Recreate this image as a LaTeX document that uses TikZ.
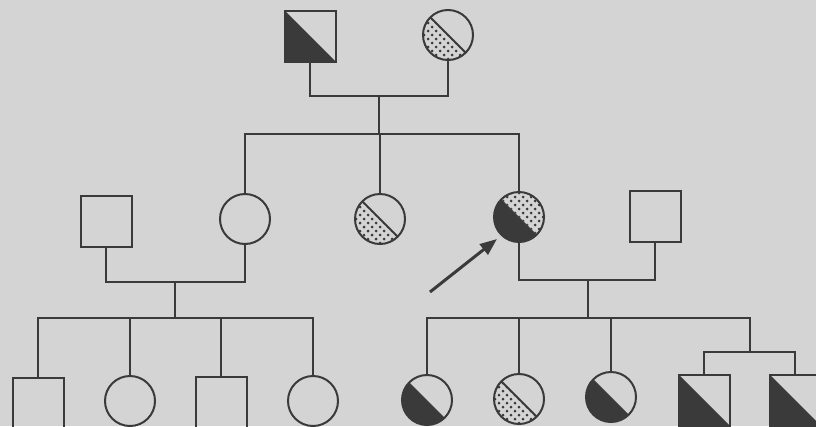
\documentclass[tikz,border=0pt]{standalone}
\usetikzlibrary{arrows.meta}
\definecolor{bg}{RGB}{212,212,212}
\definecolor{lc}{RGB}{58,58,58}
\newcommand\pedots{\foreach \i in {-5,...,5}{\foreach \j in {-5,...,5}{%
  \fill[lc] ([xshift=\i*8pt,yshift=\j*8pt]path picture bounding box.center) circle[radius=1.5pt];
  \fill[lc] ([xshift=\i*8pt+4pt,yshift=\j*8pt+4pt]path picture bounding box.center) circle[radius=1.5pt];}}}
\tikzset{
  ind/.style={draw=lc, line width=2pt, inner sep=0pt, outer sep=0pt},
  male/.style={ind, rectangle, minimum size=51pt},
  female/.style={ind, circle, minimum size=50pt},
  darkLL/.style={path picture={\fill[lc] (path picture bounding box.north west) -- (path picture bounding box.south east) -- (path picture bounding box.south west) -- cycle;}},
  dotLL/.style={path picture={\begin{scope}\clip (path picture bounding box.north west) -- (path picture bounding box.south east) -- (path picture bounding box.south west) -- cycle; \pedots\end{scope}
     \draw[lc,line width=1.8pt] (path picture bounding box.north west) -- (path picture bounding box.south east);}},
  probandfill/.style={path picture={\fill[lc] (path picture bounding box.north west) -- (path picture bounding box.south east) -- (path picture bounding box.south west) -- cycle;
     \begin{scope}\clip (path picture bounding box.north west) -- (path picture bounding box.north east) -- (path picture bounding box.south east) -- cycle; \pedots\end{scope}}},
  link/.style={draw=lc, line width=1.9pt},
  pointer/.style={draw=lc, line width=3pt, -{Triangle[length=17pt,width=13pt]}}
}
\begin{document}
\begin{tikzpicture}[x=1pt,y=-1pt]
\fill[bg] (0,0) rectangle (816,426);
\useasboundingbox (0,0) rectangle (816,426);
\clip (0,0) rectangle (816,426);
% generation I
\node[male,darkLL] (F1) at (310,36) {};
\node[female,dotLL] (M1) at (448,35) {};
% generation II
\node[male] (H1) at (106,221) {};
\node[female] (F2) at (245,219) {};
\node[female,dotLL] (F3) at (380,219) {};
\node[female,probandfill] (P) at (519,217) {};
\node[male] (H2) at (655,216) {};
% generation III left
\node[male] (C1) at (38,403) {};
\node[female] (C2) at (130,401) {};
\node[male] (C3) at (221,402) {};
\node[female] (C4) at (313,401) {};
% generation III right
\node[female,darkLL] (D1) at (427,400) {};
\node[female,dotLL] (D2) at (519,399) {};
\node[female,darkLL] (D3) at (611,397) {};
\node[male,darkLL] (T1) at (704,400) {};
\node[male,darkLL] (T2) at (795,400) {};
% connectors
\coordinate (m1) at (379,96);
\coordinate (s1) at (379,134);
\draw[link] (F1.south) |- (m1) -| (M1.south);
\draw[link] (m1) -- (s1);
\draw[link] (F2.north) |- (s1) -| (P.north);
\draw[link] (F3.north) -- (F3.north |- s1);
\coordinate (m2) at (175,282);
\coordinate (s2) at (175,318);
\draw[link] (H1.south) |- (m2) -| (F2.south);
\draw[link] (m2) -- (s2);
\draw[link] (C1.north) |- (s2) -| (C4.north);
\draw[link] (C2.north) -- (C2.north |- s2);
\draw[link] (C3.north) -- (C3.north |- s2);
\coordinate (m3) at (588,280);
\coordinate (s3) at (588,318);
\coordinate (tw) at (750,318);
\coordinate (tb) at (750,352);
\draw[link] (P.south) |- (m3) -| (H2.south);
\draw[link] (m3) -- (s3);
\draw[link] (D1.north) |- (s3) -- (tw) -- (tb);
\draw[link] (D2.north) -- (D2.north |- s3);
\draw[link] (D3.north) -- (D3.north |- s3);
\draw[link] (T1.north) |- (tb) -| (T2.north);
% proband arrow
\coordinate (at) at (430,292);
\coordinate (ah) at (497,239);
\draw[pointer] (at) -- (ah);
\end{tikzpicture}
\end{document}
